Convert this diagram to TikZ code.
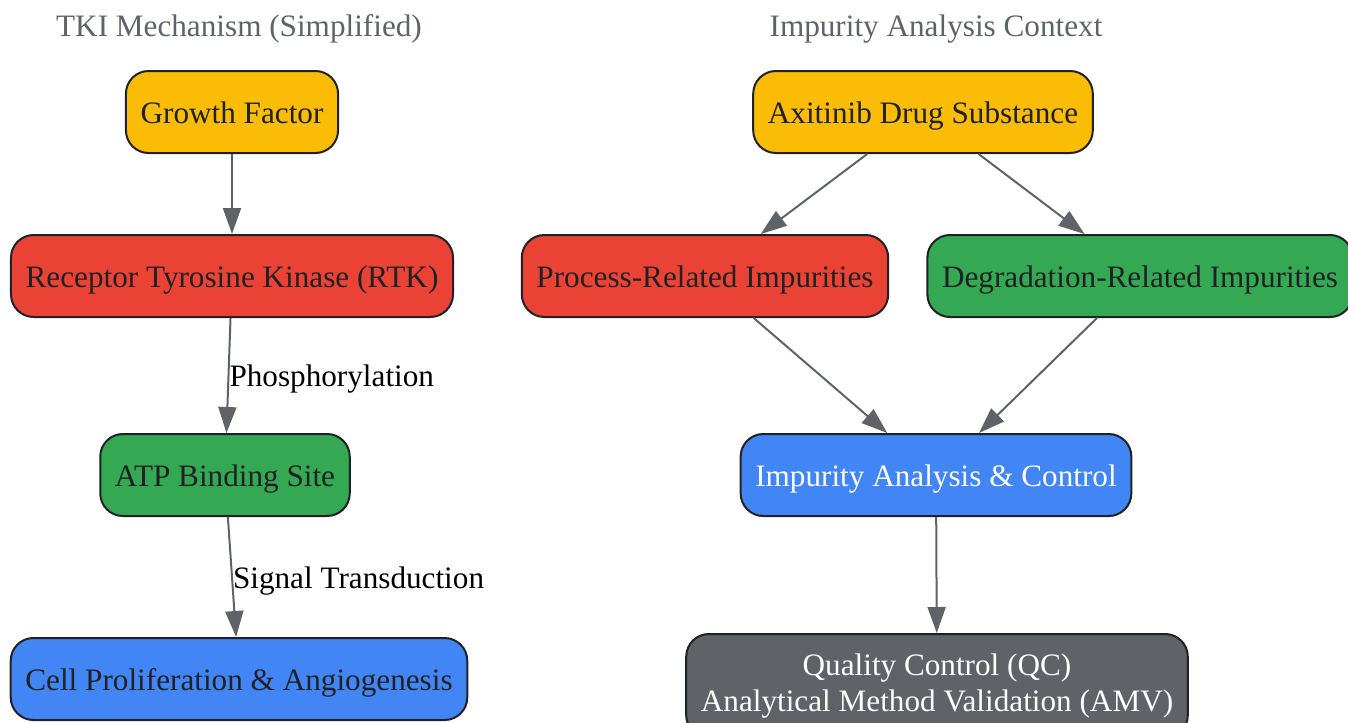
\documentclass[tikz,border=0pt]{standalone}
\usepackage{fontspec}
\setmainfont{Liberation Serif}
\usetikzlibrary{arrows.meta}
\definecolor{gyellow}{HTML}{FBBC05}
\definecolor{gred}{HTML}{EA4335}
\definecolor{ggreen}{HTML}{34A853}
\definecolor{gblue}{HTML}{4285F4}
\definecolor{ggrey}{HTML}{5F6368}
\definecolor{gdark}{HTML}{202124}

\begin{document}
\begin{tikzpicture}[
x=0.75pt, y=-0.75pt,
font=\fontsize{23.4}{27}\selectfont,
txt/.style={text height=17pt, text depth=0pt},
box/.style={txt, rectangle, rounded corners=17pt, draw=gdark, line width=1.5pt, minimum height=61.5pt, inner xsep=11pt, text=gdark, align=center},
heading/.style={txt, text=ggrey},
link/.style={draw=ggrey, line width=1.5pt, -{Triangle[length=19.5pt,width=13.5pt]}},
lbl/.style={txt, right, inner sep=0pt, text=black}
]
\useasboundingbox (0,0) rectangle (1348,722);
\node[heading] (tkititle) at (239,25.4) {TKI Mechanism (Simplified)};
\node[heading] (imptitle) at (936,25.4) {Impurity Analysis Context};

\node[box, fill=gyellow] (gf) at (232,112) {Growth Factor};
\node[box, fill=gred] (rtk) at (232,276) {Receptor Tyrosine Kinase (RTK)};
\node[box, fill=ggreen] (atp) at (225,475) {ATP Binding Site};
\node[box, fill=gblue] (cell) at (239,679) {Cell Proliferation \& Angiogenesis};

\node[box, fill=gyellow] (axi) at (923,112) {Axitinib Drug Substance};
\node[box, fill=gred] (proc) at (705,276) {Process-Related Impurities};
\node[box, fill=ggreen] (degr) at (1140,276) {Degradation-Related Impurities};
\node[box, fill=gblue, text=white] (iac) at (936,475) {Impurity Analysis \& Control};
\node[box, fill=ggrey, text=white, text height=, text depth=, anchor=north, minimum height=78pt] (qc) at (937,633) {Quality Control (QC)\\Analytical Method Validation (AMV)};

\draw[link] (gf) -- (rtk);
\draw[link] (rtk) -- node[lbl]{Phosphorylation} (atp);
\draw[link] (atp) -- node[lbl]{Signal Transduction} (cell);
\draw[link] (axi) -- (proc);
\draw[link] (axi) -- (degr);
\draw[link] (proc) -- (iac);
\draw[link] (degr) -- (iac);
\draw[link] (iac) -- (qc);
\end{tikzpicture}
\end{document}
